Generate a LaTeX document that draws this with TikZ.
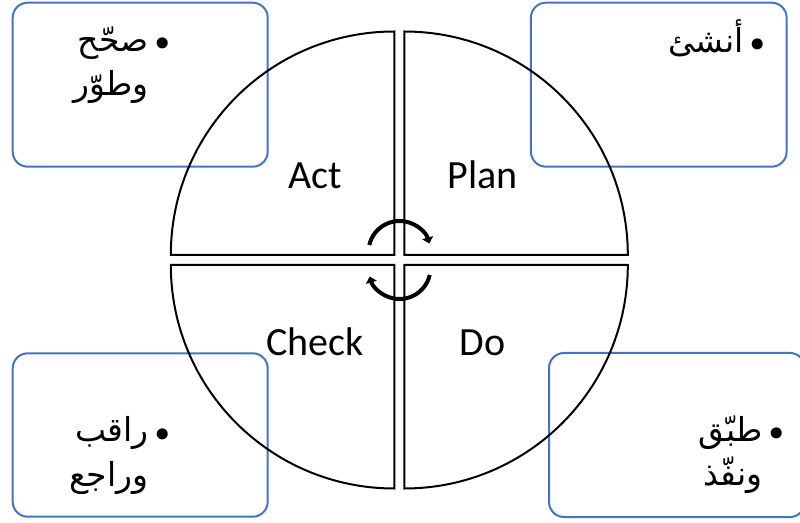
\documentclass[tikz,border=0pt]{standalone}
\usepackage{fontspec}
\setmainfont{Carlito}
\newfontfamily\arabicfont[Script=Arabic]{DejaVu Sans}
\TeXXeTstate=1
\usetikzlibrary{arrows.meta}
\definecolor{boxblue}{HTML}{4472C4}
% a large bullet followed by a narrow gap, and an empty stand-in of the same width
\newcommand\notebullet{\raisebox{-6pt}{\fontsize{38}{44}\selectfont •}\hspace{3pt}}
\newcommand\notegap{\phantom{\notebullet}}
\begin{document}
\begin{tikzpicture}[x=1pt,y=1pt,
  quarter/.style={draw=black, line width=2pt},
  infobox/.style={draw=boxblue, line width=2pt, rounded corners=15pt, rectangle, inner sep=0pt},
  phase/.style={font=\fontsize{40}{48}\selectfont, inner sep=0pt, anchor=base},
  note/.style={font=\arabicfont\fontsize{33}{44}\selectfont, align=right, inner sep=0pt, anchor=base east},
  cyclearrow/.style={line width=4pt, -{Triangle[length=6pt,width=11pt]}}]
\useasboundingbox (0,0) rectangle (800,522);

% corner boxes
\node[infobox, minimum width=255pt, minimum height=164pt] (actbox)   at (140.2,437.3) {};
\node[infobox, minimum width=255.7pt, minimum height=164pt] (planbox) at (658.8,437.3) {};
\node[infobox, minimum width=255pt, minimum height=163.4pt] (checkbox) at (140.2,87) {};
\node[infobox, minimum width=256pt, minimum height=164pt] (dobox)    at (677,87) {};

% four quarters of the cycle
\def\R{223.5}
\coordinate (ca) at (394.3,267);
\coordinate (cp) at (404.3,267);
\coordinate (cc) at (394.3,257);
\coordinate (cd) at (404.3,257);
\draw[quarter] (ca) -- ++(-\R,0) arc[start angle=180, end angle=90, radius=\R] -- cycle;
\draw[quarter] (cp) -- ++(0,\R) arc[start angle=90, end angle=0, radius=\R] -- cycle;
\draw[quarter] (cc) -- ++(-\R,0) arc[start angle=180, end angle=270, radius=\R] -- cycle;
\draw[quarter] (cd) -- ++(\R,0) arc[start angle=0, end angle=-90, radius=\R] -- cycle;

% phase names
\node[phase] (act)   at (315,333.5) {Act};
\node[phase] (plan)  at (482.5,333.5) {Plan};
\node[phase] (check) at (315,166) {Check};
\node[phase] (do)    at (482.5,166) {Do};

% circular arrows in the middle
\coordinate (topc) at (399.5,270);
\coordinate (botc) at (399.5,254);
\draw[cyclearrow] (topc) ++(167:31) arc[start angle=167, end angle=16, radius=31];
\draw[cyclearrow] (botc) ++(-13:31) arc[start angle=-13, end angle=-164, radius=31];

% bullet notes (base anchor sits on the last line)
\node[note] (actnote) at (174,426) {\beginR\notebullet صحّح\endR\\\beginR\notegap وطوّر\endR};
\node[note] (plannote) at (769,469) {\beginR\notebullet أنشئ\endR};
\node[note] (checknote) at (174,36) {\beginR\notebullet راقب\endR\\\beginR\notegap وراجع\endR};
\node[note] (donote) at (788,37) {\beginR\notebullet طبّق\endR\\\beginR\notegap ونفّذ\endR};
\end{tikzpicture}
\end{document}
